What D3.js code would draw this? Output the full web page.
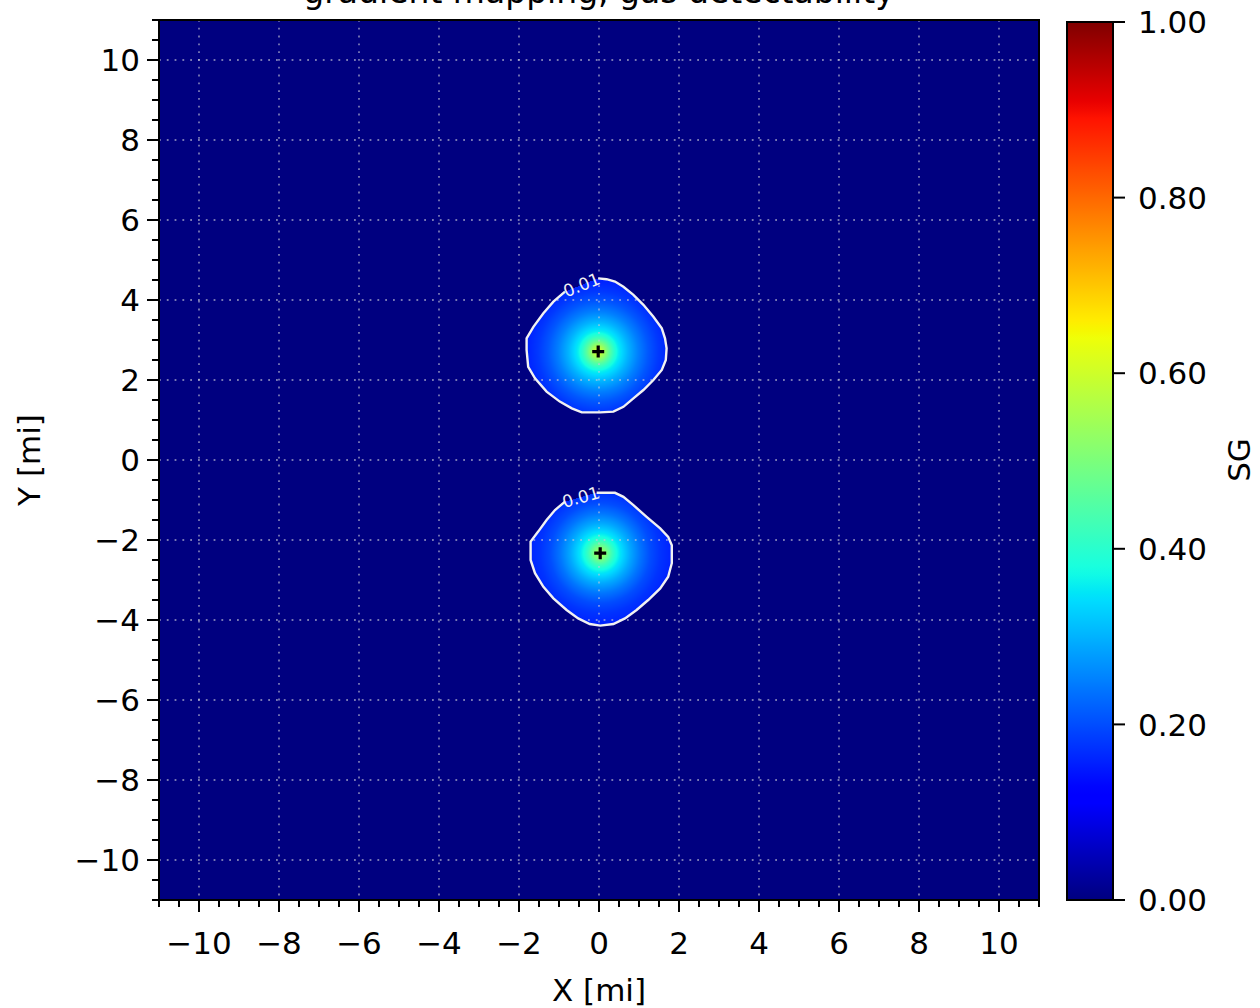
<!DOCTYPE html>
<html><head><meta charset="utf-8">
<script src="https://cdn.jsdelivr.net/npm/d3@7"></script>
<style>body{margin:0;background:#fff}svg{display:block;font-family:"DejaVu Sans",sans-serif}</style>
</head><body><svg id="c" width="1260" height="1008"></svg>
<script>
// ---- data ----
const titleText = "gradient mapping, gas detectability";
const xTicks = [-10, -8, -6, -4, -2, 0, 2, 4, 6, 8, 10];
const yTicks = [-10, -8, -6, -4, -2, 0, 2, 4, 6, 8, 10];
const cbTicks = [0, 0.2, 0.4, 0.6, 0.8, 1.0];
const sourceX = [-0.02, 0.03];
const sourceY = [2.71, -2.33];
const profileR = [0, 0.1, 0.2, 0.3, 0.4, 0.5, 0.75, 1.0, 1.25, 1.5, 1.75, 2.0];
const profileUpper = [0.60, 0.57, 0.51, 0.45, 0.40, 0.36, 0.30, 0.25, 0.21, 0.18, 0.16, 0.15];
const profileLower = [0.54, 0.52, 0.47, 0.42, 0.38, 0.35, 0.29, 0.24, 0.20, 0.175, 0.16, 0.15];
const contourLevel = 0.01;
const contourUpper = [[-0.02,4.54],[0.19,4.52],[0.4,4.46],[0.61,4.33],[0.86,4.13],[1.11,3.88],[1.36,3.58],[1.57,3.29],[1.65,3.04],[1.69,2.79],[1.67,2.5],[1.57,2.25],[1.36,2.0],[1.11,1.75],[0.86,1.54],[0.61,1.33],[0.36,1.21],[0.03,1.19],[-0.43,1.19],[-0.68,1.29],[-0.98,1.46],[-1.31,1.71],[-1.6,2.04],[-1.77,2.33],[-1.81,2.75],[-1.81,3.04],[-1.64,3.33],[-1.39,3.67],[-1.14,3.96],[-0.85,4.21]];
const contourLower = [[-0.06,-0.82],[0.4,-0.82],[0.61,-0.92],[0.86,-1.13],[1.19,-1.42],[1.53,-1.71],[1.73,-1.92],[1.82,-2.13],[1.82,-2.58],[1.73,-2.92],[1.53,-3.21],[1.23,-3.5],[0.94,-3.75],[0.65,-3.96],[0.36,-4.1],[0.03,-4.14],[-0.23,-4.1],[-0.52,-3.96],[-0.81,-3.75],[-1.14,-3.46],[-1.39,-3.17],[-1.6,-2.83],[-1.71,-2.5],[-1.71,-2.04],[-1.52,-1.79],[-1.31,-1.5],[-1.1,-1.25],[-0.85,-1.04]];

// jet colormap segments (matplotlib)
const jetR = [[0,0],[0.35,0],[0.66,1],[0.89,1],[1,0.5]];
const jetG = [[0,0],[0.125,0],[0.375,1],[0.64,1],[0.91,0],[1,0]];
const jetB = [[0,0.5],[0.11,1],[0.34,1],[0.65,0],[1,0]];
function seg(s, v){ for(let i=1;i<s.length;i++){ if(v<=s[i][0]){ const t=(v-s[i-1][0])/(s[i][0]-s[i-1][0]); return s[i-1][1]+t*(s[i][1]-s[i-1][1]); } } return s[s.length-1][1]; }
function jet(v){ v=Math.max(0,Math.min(1,v)); return [Math.round(255*seg(jetR,v)),Math.round(255*seg(jetG,v)),Math.round(255*seg(jetB,v))]; }

// ---- layout ----
const L=159, R=1039, T=20, B=900;
const x = d3.scaleLinear().domain([-11,11]).range([L,R]);
const y = d3.scaleLinear().domain([-11,11]).range([B,T]);
const svg = d3.select("#c");

// ---- field raster ----
const W=R-L, H=B-T;
const cv = document.createElement("canvas"); cv.width=W; cv.height=H;
const ctx = cv.getContext("2d");
const img = ctx.createImageData(W,H);
const profInterp = (prof) => d3.scaleLinear().domain(profileR).range(prof).clamp(true);
const sources = [
  {sx:sourceX[0], sy:sourceY[0], f:profInterp(profileUpper), poly:contourUpper},
  {sx:sourceX[1], sy:sourceY[1], f:profInterp(profileLower), poly:contourLower}
];
sources.forEach(s=>{ s.ext=[d3.extent(s.poly,d=>d[0]), d3.extent(s.poly,d=>d[1])]; });
for(let j=0;j<H;j++){
  const dy = y.invert(T+j+0.5);
  for(let i=0;i<W;i++){
    const dx = x.invert(L+i+0.5);
    let v=0;
    for(const s of sources){
      if(dx<s.ext[0][0]||dx>s.ext[0][1]||dy<s.ext[1][0]||dy>s.ext[1][1]) continue;
      if(d3.polygonContains(s.poly,[dx,dy])){ v=s.f(Math.hypot(dx-s.sx,dy-s.sy)); }
    }
    const c=jet(v), k=4*(j*W+i);
    img.data[k]=c[0]; img.data[k+1]=c[1]; img.data[k+2]=c[2]; img.data[k+3]=255;
  }
}
ctx.putImageData(img,0,0);
svg.append("image").attr("x",L).attr("y",T).attr("width",W).attr("height",H).attr("href",cv.toDataURL());

// grid
const grid = svg.append("g").attr("stroke","rgba(200,200,215,0.6)").attr("stroke-width",1.8).attr("stroke-dasharray","1.8,6");
grid.selectAll("line.gx").data(xTicks).join("line").attr("x1",d=>x(d)).attr("x2",d=>x(d)).attr("y1",T).attr("y2",B);
grid.selectAll("line.gy").data(yTicks).join("line").attr("y1",d=>y(d)).attr("y2",d=>y(d)).attr("x1",L).attr("x2",R);

// contours
const line = d3.line().x(d=>x(d[0])).y(d=>y(d[1]));
[contourUpper, contourLower].forEach(p=>{
  svg.append("path").attr("d",line(p)).attr("fill","none").attr("stroke","#f2f2f2").attr("stroke-width",2.4);
  const a=p[p.length-1], b=p[0];
  const mx=(x(a[0])+x(b[0]))/2, my=(y(a[1])+y(b[1]))/2;
  const ang=Math.atan2(y(b[1])-y(a[1]), x(b[0])-x(a[0]))*180/Math.PI;
  svg.append("text").attr("transform",`translate(${mx},${my}) rotate(${ang})`)
    .attr("text-anchor","middle").attr("dy","0.35em").attr("fill","#f2f2f2").attr("font-size",17)
    .text(d3.format(".2f")(contourLevel));
});

// source markers
svg.selectAll("path.src").data(sourceX).join("path")
  .attr("d",(d,i)=>{const cx=x(d), cy=y(sourceY[i]); return `M${cx-6},${cy}H${cx+6}M${cx},${cy-6}V${cy+6}`;})
  .attr("stroke","#000").attr("stroke-width",3.2);

// frame
svg.append("rect").attr("x",L).attr("y",T).attr("width",W).attr("height",H).attr("fill","none").attr("stroke","#000").attr("stroke-width",2);

// axes
const minor = d3.range(-11,11.01,0.5);
const ax = svg.append("g").attr("stroke","#000").attr("stroke-width",2);
ax.selectAll("line.mx").data(minor).join("line").attr("x1",d=>x(d)).attr("x2",d=>x(d)).attr("y1",B).attr("y2",B+7);
ax.selectAll("line.Mx").data(xTicks).join("line").attr("x1",d=>x(d)).attr("x2",d=>x(d)).attr("y1",B).attr("y2",B+12);
ax.selectAll("line.my").data(minor).join("line").attr("y1",d=>y(d)).attr("y2",d=>y(d)).attr("x1",L).attr("x2",L-7);
ax.selectAll("line.My").data(yTicks).join("line").attr("y1",d=>y(d)).attr("y2",d=>y(d)).attr("x1",L).attr("x2",L-12);
const fmt = d => d<0 ? "\u2212"+Math.abs(d) : String(d);
svg.selectAll("text.xt").data(xTicks).join("text").attr("x",d=>x(d)).attr("y",954)
  .attr("text-anchor","middle").attr("font-size",31).attr("fill","#000").text(fmt);
svg.selectAll("text.yt").data(yTicks).join("text").attr("x",140).attr("y",d=>y(d)).attr("dy","0.36em")
  .attr("text-anchor","end").attr("font-size",31).attr("fill","#000").text(fmt);
svg.append("text").attr("x",(L+R)/2).attr("y",1001).attr("text-anchor","middle").attr("font-size",31).text("X [mi]");
svg.append("text").attr("transform",`translate(40,${(T+B)/2}) rotate(-90)`).attr("text-anchor","middle").attr("font-size",31).text("Y [mi]");
svg.append("text").attr("x",(L+R)/2).attr("y",3).attr("text-anchor","middle").attr("font-size",33).text(titleText);

// colorbar
const cbx=1067, cbw=46;
const cy = d3.scaleLinear().domain([0,1]).range([B,T+2]);
const defs = svg.append("defs");
const lg = defs.append("linearGradient").attr("id","jetg").attr("x1",0).attr("y1",1).attr("x2",0).attr("y2",0);
d3.range(0,1.0001,0.01).forEach(v=>{const c=jet(v); lg.append("stop").attr("offset",v).attr("stop-color",`rgb(${c})`);});
svg.append("rect").attr("x",cbx).attr("y",cy(1)).attr("width",cbw).attr("height",cy(0)-cy(1)).attr("fill","url(#jetg)").attr("stroke","#000").attr("stroke-width",2);
svg.selectAll("line.cb").data(cbTicks).join("line").attr("x1",cbx+cbw).attr("x2",cbx+cbw+12)
  .attr("y1",d=>cy(d)).attr("y2",d=>cy(d)).attr("stroke","#000").attr("stroke-width",2);
svg.selectAll("text.cb").data(cbTicks).join("text").attr("x",cbx+cbw+25).attr("y",d=>cy(d)).attr("dy","0.36em")
  .attr("font-size",31).text(d=>d3.format(".2f")(d));
svg.append("text").attr("transform",`translate(1250,${(T+B)/2}) rotate(-90)`).attr("text-anchor","middle").attr("font-size",31).text("SG");
</script></body></html>
